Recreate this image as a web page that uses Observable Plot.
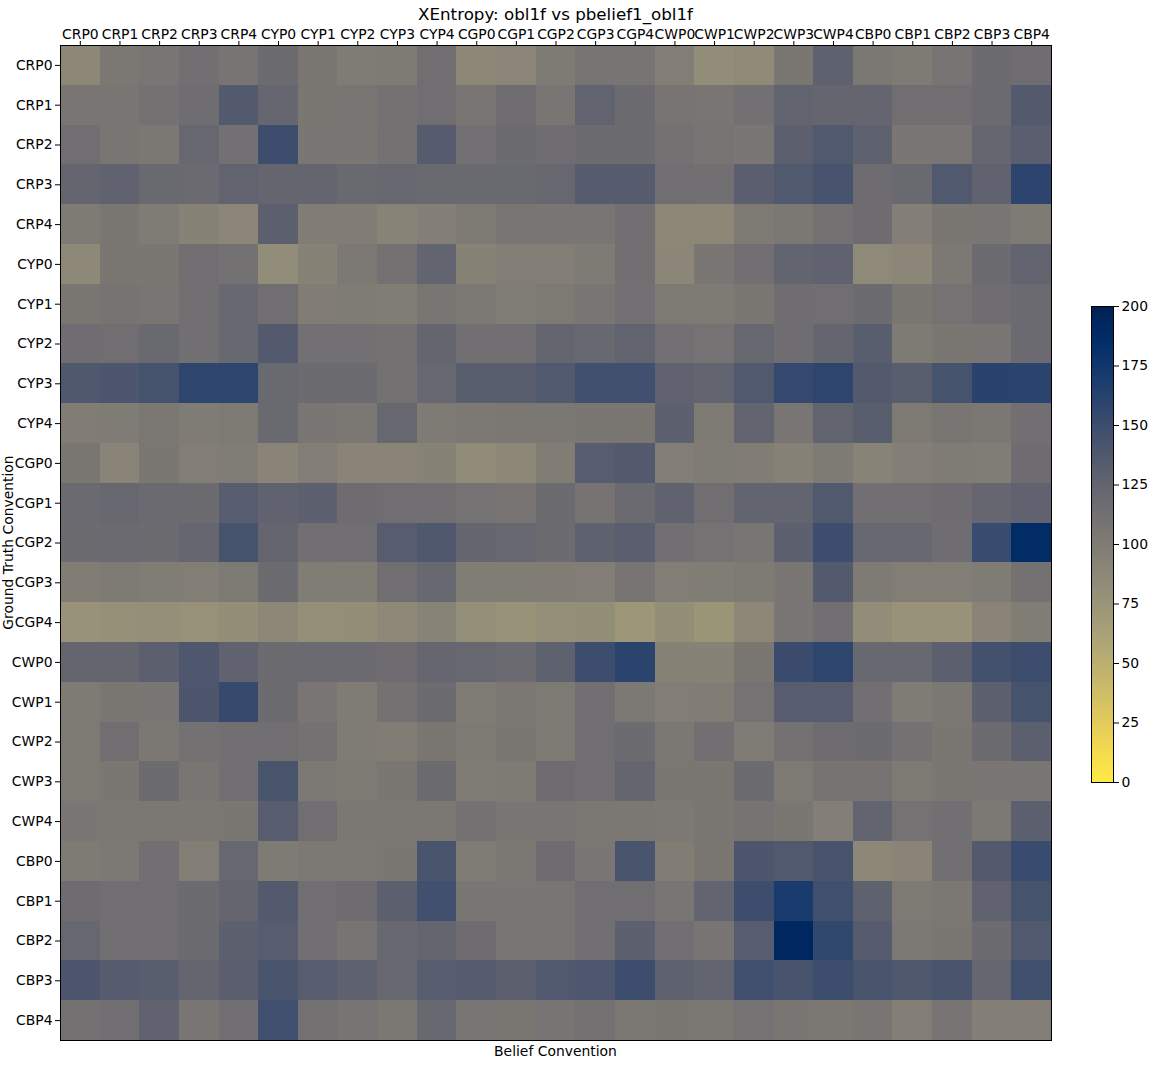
<!DOCTYPE html>
<html>
<head>
<meta charset="utf-8">
<script src="https://cdn.jsdelivr.net/npm/d3@7"></script>
<script src="https://cdn.jsdelivr.net/npm/@observablehq/plot@0.6"></script>
<style>
  html, body { margin: 0; padding: 0; background: #fff; }
  #wrap { position: relative; width: 1153px; height: 1067px; overflow: hidden; }
  #wrap svg { position: absolute; overflow: visible; }
</style>
</head>
<body>
<div id="wrap"></div>
<script>
const titleText = "XEntropy: obl1f vs pbelief1_obl1f";
const xLabel = "Belief Convention";
const yLabel = "Ground Truth Convention";

const beliefConventions = ["CRP0","CRP1","CRP2","CRP3","CRP4","CYP0","CYP1","CYP2","CYP3","CYP4",
  "CGP0","CGP1","CGP2","CGP3","CGP4","CWP0","CWP1","CWP2","CWP3","CWP4","CBP0","CBP1","CBP2","CBP3","CBP4"];
const truthConventions = beliefConventions.slice();
const colorTicks = [0, 25, 50, 75, 100, 125, 150, 175, 200];

// rows = ground truth convention, columns = belief convention
const xentropy = [
  [88,104,107,113,108,118,105,100,101,114,88,90,101,108,108,97,82,84,105,128,104,101,108,117,115],
  [107,107,111,115,136,123,105,107,111,114,107,115,107,126,117,108,107,112,126,124,124,114,114,119,136],
  [114,107,104,122,112,150,106,106,111,134,112,118,115,117,117,111,108,106,130,137,128,106,107,123,131],
  [124,127,120,119,126,124,124,120,122,120,120,120,122,134,134,114,113,131,137,143,116,120,137,127,159],
  [101,105,100,93,89,130,98,98,92,96,102,107,106,107,113,88,88,102,104,111,116,96,105,106,101],
  [87,105,105,114,111,82,93,103,111,125,93,97,96,101,113,89,106,113,125,127,86,89,103,118,126],
  [105,109,107,113,121,114,98,100,99,107,103,99,102,107,112,102,101,105,115,114,118,105,110,115,119],
  [115,114,120,113,121,136,112,112,111,124,113,113,124,121,126,112,110,122,115,124,132,101,105,107,119],
  [138,140,144,158,158,120,117,117,111,121,132,132,137,147,147,127,125,137,154,158,136,132,144,161,160],
  [98,100,104,100,102,120,106,104,122,101,103,104,104,105,105,129,101,125,107,126,132,102,107,104,113],
  [105,91,105,97,99,91,97,91,91,93,83,88,98,133,136,97,100,98,94,101,92,96,100,99,116],
  [119,122,119,118,133,127,129,116,114,113,110,108,118,109,119,127,114,125,125,137,113,113,116,123,127],
  [118,119,117,123,144,124,113,114,133,138,124,122,118,128,131,113,110,107,129,150,121,121,115,152,187],
  [98,101,99,97,102,118,99,99,114,121,99,99,98,97,108,97,99,101,106,136,101,97,97,100,111],
  [77,79,80,78,81,88,80,81,87,92,80,77,80,81,72,81,74,88,106,113,82,77,77,91,99],
  [124,124,130,139,127,118,119,119,116,123,122,119,128,150,160,93,93,105,151,158,121,121,130,146,150],
  [101,105,106,140,153,118,107,100,111,118,100,104,102,113,103,97,98,110,133,133,113,100,104,129,144],
  [102,114,104,111,113,114,111,100,98,105,102,105,102,114,118,104,113,100,111,116,118,111,105,117,130],
  [102,105,118,107,113,142,103,102,105,118,100,101,116,113,124,105,105,118,102,109,109,102,105,106,106],
  [106,104,104,104,105,133,114,104,104,104,111,106,107,104,104,103,105,109,105,96,125,110,113,103,130],
  [101,103,113,97,122,101,103,103,105,142,100,104,116,106,142,98,105,140,137,143,88,91,113,136,152],
  [116,114,114,117,124,136,114,116,130,147,106,106,107,114,114,107,125,150,170,148,128,102,104,127,144],
  [122,113,114,118,129,133,113,108,121,124,116,107,107,113,129,113,108,133,192,157,134,103,105,117,137],
  [140,134,132,124,131,142,133,128,122,133,134,129,137,139,150,128,125,148,143,150,142,138,142,123,148],
  [111,113,127,106,113,147,111,108,104,121,106,105,108,111,104,105,104,110,106,104,107,97,108,96,97]
];

const cells = [];
truthConventions.forEach((t, i) => beliefConventions.forEach((b, j) => cells.push({truth: t, belief: b, value: xentropy[i][j]})));

const font = "'DejaVu Sans', 'Liberation Sans', sans-serif";
const colorScale = {type: "linear", domain: [0, 200], scheme: "cividis", reverse: true};

const W = 1153, H = 1067;
const mL = 60, mR = 102, mT = 45, mB = 27;

const chart = Plot.plot({
  width: W, height: H,
  marginLeft: mL, marginRight: mR, marginTop: mT, marginBottom: mB,
  style: {fontFamily: font, fontSize: "13.9px", color: "black", background: "transparent", overflow: "visible"},
  x: {domain: beliefConventions, axis: "top", padding: 0, round: false, tickSize: 5, tickPadding: 2, label: null},
  y: {domain: truthConventions, padding: 0, round: false, tickSize: 5, tickPadding: 3, label: null},
  color: colorScale,
  marks: [
    Plot.cell(cells, {x: "belief", y: "truth", fill: "value", inset: 0, shapeRendering: "crispEdges"}),
    Plot.frame({stroke: "black", strokeWidth: 1})
  ]
});
chart.style.left = "0px";
chart.style.top = "0px";

const svg = d3.select(chart);
const cx = mL + (W - mL - mR) / 2;
const cy = mT + (H - mT - mB) / 2;
svg.append("text")
  .attr("x", cx).attr("y", 20)
  .attr("text-anchor", "middle")
  .attr("font-family", font).attr("font-size", "16.7px").attr("fill", "black")
  .text(titleText);
svg.append("text")
  .attr("x", cx).attr("y", 1056)
  .attr("text-anchor", "middle")
  .attr("font-family", font).attr("font-size", "13.9px").attr("fill", "black")
  .text(xLabel);
svg.append("text")
  .attr("transform", `translate(13,${cy}) rotate(-90)`)
  .attr("text-anchor", "middle")
  .attr("font-family", font).attr("font-size", "13.9px").attr("fill", "black")
  .text(yLabel);

document.getElementById("wrap").appendChild(chart);

// colorbar
const steps = d3.range(0, 200, 0.5);
const bar = Plot.plot({
  width: 70, height: 492,
  marginTop: 8, marginBottom: 8, marginLeft: 0, marginRight: 48,
  style: {fontFamily: font, fontSize: "13.9px", color: "black", background: "transparent", overflow: "visible"},
  x: {axis: null, domain: [0, 1]},
  y: {domain: [0, 200], ticks: colorTicks, tickFormat: d3.format("d"), tickSize: 5, tickPadding: 3, axis: "right", label: null},
  color: colorScale,
  marks: [
    Plot.rect(steps, {x1: 0, x2: 1, y1: d => d, y2: d => d + 0.5, fill: d => d + 0.25, shapeRendering: "crispEdges"}),
    Plot.frame({stroke: "black", strokeWidth: 1})
  ]
});
bar.style.left = "1091px";
bar.style.top = "298px";
document.getElementById("wrap").appendChild(bar);
</script>
</body>
</html>
